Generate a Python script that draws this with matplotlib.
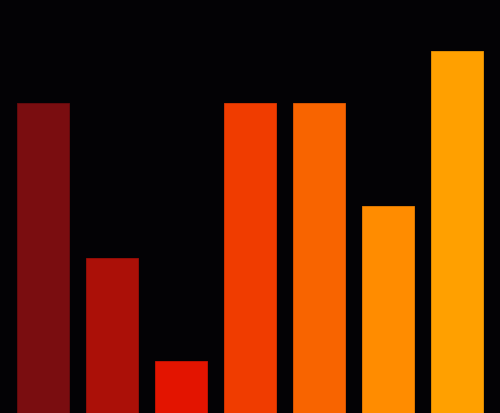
import matplotlib

matplotlib.use("Agg")

import matplotlib.pyplot as plt

# bar values (unit grid of ~52 px)
categories = ["A", "B", "C", "D", "E", "F", "G"]
values = [6, 3, 1, 6, 6, 4, 7]
colors = ["#7a0d10", "#ab1008", "#e31400", "#f03c00",
          "#f86400", "#ff8c00", "#ffa000"]
edges = ["#6a0a0d", "#9a0d06", "#cc1200", "#dc3600",
         "#e45a00", "#ec8000", "#ee9400"]

BG = "#030205"

fig = plt.figure(figsize=(5.0, 4.14), dpi=100, facecolor=BG)
ax = fig.add_axes([0, 0, 1, 1], facecolor=BG)

x = range(len(categories))
ax.bar(x, values, width=0.745, color=colors, edgecolor=edges, linewidth=0.6)

ax.set_xlim(-0.623, 6.623)
ax.set_ylim(0, 8)
ax.axis("off")

fig.savefig("out.png", dpi=100, facecolor=BG)
